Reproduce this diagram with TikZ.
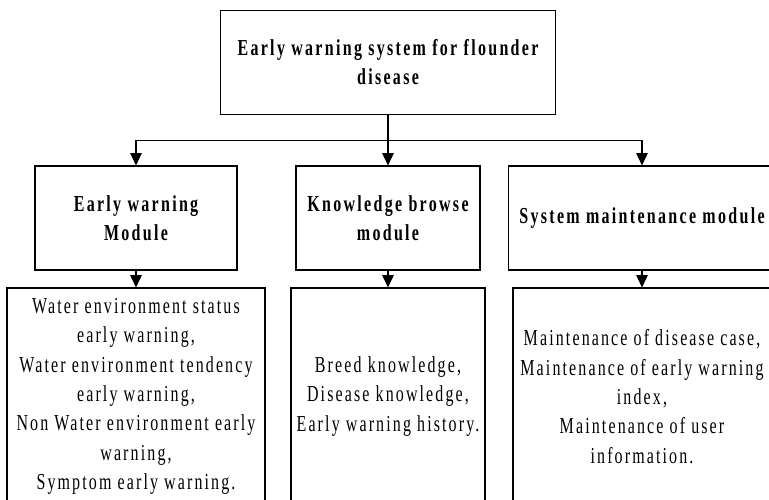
\documentclass[tikz,border=0pt]{standalone}
\usepackage{fontspec}
\setmainfont{Liberation Serif}[FakeStretch=0.7,LetterSpace=9.3,BoldFeatures={LetterSpace=10.1}]
\usetikzlibrary{arrows.meta}
\tikzset{
	box/.style={draw, line width=0.6pt, inner sep=0pt, align=center},
	plain/.style={box, font=\fontsize{13pt}{16.7pt}\selectfont},
	head/.style={box, font=\fontsize{13pt}{16.6pt}\selectfont\bfseries},
	arr/.style={-{Triangle[length=7pt,width=6.5pt]}, line width=0.6pt}
}
\begin{document}
\begin{tikzpicture}[x=0.02cm, y=-0.02cm]
	\clip (0, 0) rectangle (769, 500);
	\useasboundingbox (0, 0) rectangle (769, 500);

	\node[head, minimum width=6.72cm, minimum height=2.07cm] (sys) at (388, 62.3) {Early warning system for flounder\\disease};

		\node[head, minimum width=4.04cm, minimum height=2.08cm] (warn) at (136, 218) {Early warning\\Module};
		\node[head, minimum width=3.68cm, minimum height=2.08cm] (know) at (388, 218) {Knowledge browse\\module};
		\node[head, minimum width=5.36cm, minimum height=2.08cm] (maint) at (642, 218) {System maintenance module};

		\node[plain, minimum width=5.16cm, minimum height=4.34cm] (warnlist) at (136, 396.5) {Water environment status\\early warning,\\Water environment tendency\\early warning,\\Non Water environment early\\warning,\\Symptom early warning.};
		\node[plain, minimum width=3.88cm, minimum height=4.34cm] (knowlist) at (388, 396.5) {Breed knowledge,\\Disease knowledge,\\Early warning history.};
		\node[plain, minimum width=5.16cm, minimum height=4.34cm] (maintlist) at (642, 396.5) {Maintenance of disease case,\\Maintenance of early warning\\index,\\Maintenance of user\\information.};

	\coordinate (split) at (388, 140.7);
	\draw[arr] (sys) to (know);
	\draw[arr] (split) -| (warn.north);
	\draw[arr] (split) -| (maint.north);

	\draw[arr] (warn) to (warnlist);
	\draw[arr] (know) to (knowlist);
	\draw[arr] (maint) to (maintlist);
\end{tikzpicture}
\end{document}
